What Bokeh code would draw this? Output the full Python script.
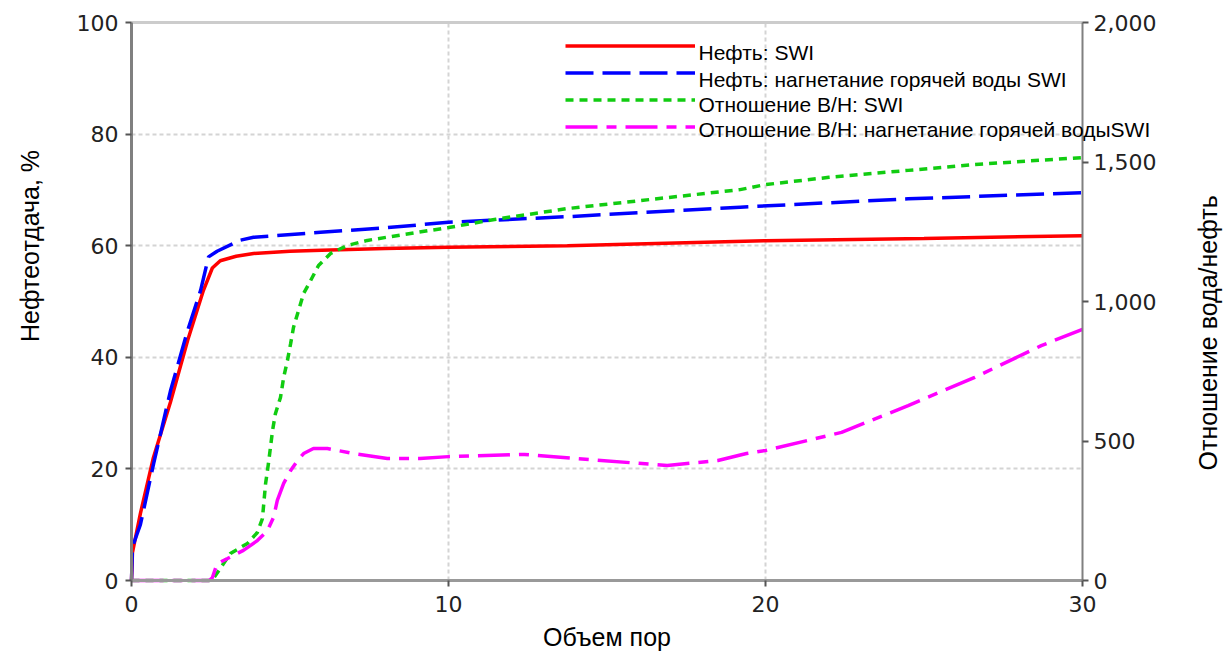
import math
from bokeh.plotting import figure
from bokeh.models import Range1d, LinearAxis, NumeralTickFormatter, FixedTicker, Label, Legend, LegendItem
from bokeh.embed import file_html
from bokeh.resources import INLINE

# ---- data ----
x_red = [0, 0.03, 0.28, 0.69, 1.23, 1.77, 2.27, 2.55, 2.8, 3.3, 3.85, 5.0, 6.0, 8.0, 10, 13.75, 20, 25, 30]
y_red = [0, 5, 12, 22, 32, 43, 52, 56, 57.3, 58.1, 58.6, 59.0, 59.2, 59.5, 59.7, 60.0, 60.9, 61.3, 61.8]

x_blue = [0, 0.03, 0.28, 0.7, 1.23, 1.77, 2.18, 2.43, 2.7, 3.44, 3.85, 5.96, 8, 10, 13.75, 19.2, 24.5, 30]
y_blue = [0, 6, 10, 21, 34, 44.8, 52, 58, 59, 61, 61.5, 62.4, 63.2, 64.2, 65.2, 66.9, 68.4, 69.5]

x_green = [0, 2.45, 2.6, 3.12, 3.66, 3.97, 4.13, 4.23, 4.32, 4.45, 4.54, 4.7, 4.8, 4.92, 5.02, 5.11,
           5.27, 5.43, 5.65, 5.9, 6.28, 6.81, 7.44, 8.58, 10, 11.5, 13.75, 19.2, 20, 22, 24.5, 26.6, 30]
y_green = [0, 0, 10, 97, 133, 172, 222, 348, 419, 538, 598, 656, 728, 789, 849, 907,
           968, 1029, 1075, 1129, 1172, 1201, 1219, 1240, 1265, 1295, 1333, 1401, 1419, 1445, 1470, 1491, 1516]

x_mag = [0, 2.45, 2.55, 2.7, 3.03, 3.53, 3.97, 4.29, 4.48, 4.6, 4.8, 5.02, 5.24, 5.43, 5.74, 6.18, 7.0,
         8.07, 9.1, 10, 12.4, 14.07, 16.9, 18.5, 19.4, 20, 22.4, 24.5, 26.6, 28.7, 30]
y_mag = [0, 0, 10, 60, 79, 108, 143, 179, 226, 287, 348, 394, 430, 455, 473, 473, 455,
         437, 437, 444, 452, 437, 412, 430, 455, 466, 531, 627, 728, 842, 900]

x_ticks = [0, 10, 20, 30]
left_ticks = [0, 20, 40, 60, 80, 100]
right_ticks = [0, 500, 1000, 1500, 2000]

labels = ["Нефть: SWI",
          "Нефть: нагнетание горячей воды SWI",
          "Отношение В/Н: SWI",
          "Отношение В/Н: нагнетание горячей водыSWI"]

TICK_FONT = "DejaVu Sans"
TEXT_FONT = "Liberation Sans"
NB = "\u00a0"

X_MAX, Y_MAX, W_MAX = 30.0, 100.0, 2000.0
W, H = 1228, 653
# plotted area inside the canvas (pixels); the frame fills the whole canvas so that
# axes, legend and labels can all be drawn without being clipped
PL, PR, PT, PB = 131, 1082, 22, 580
kx = (PR - PL) / X_MAX
ky = (PB - PT) / Y_MAX
x0, x1 = -PL / kx, X_MAX + (W - PR) / kx
y0, y1 = -(H - PB) / ky, Y_MAX + PT / ky
wf = W_MAX / Y_MAX

p = figure(width=W, height=H, output_backend="svg", toolbar_location=None,
           x_range=Range1d(x0, x1), y_range=Range1d(y0, y1),
           min_border_left=0, min_border_right=0, min_border_top=0, min_border_bottom=0)
p.extra_y_ranges = {"wor": Range1d(y0 * wf, y1 * wf)}

p.outline_line_color = None
p.background_fill_color = "white"
p.border_fill_color = "white"
p.xaxis.visible = False
p.yaxis.visible = False

# grids
p.xgrid.ticker = FixedTicker(ticks=[10, 20])
p.ygrid.ticker = FixedTicker(ticks=[20, 40, 60, 80])
for g in (p.xgrid, p.ygrid):
    g.grid_line_color = "#d4d4d4"
    g.grid_line_width = 2
    g.grid_line_dash = "4 3"
if "cross_bounds" in p.ygrid[0].properties():
    p.ygrid[0].cross_bounds = (0, X_MAX)
    p.xgrid[0].cross_bounds = (0, Y_MAX)

def style_axis(ax, color, width):
    ax.axis_line_color = color
    ax.axis_line_width = width
    ax.major_tick_line_color = "#555555"
    ax.major_tick_line_width = 2
    ax.major_tick_in = 0
    ax.major_tick_out = 6
    ax.minor_tick_line_color = None
    ax.major_label_text_font = TICK_FONT
    ax.major_label_text_font_size = "22px"
    ax.major_label_text_color = "#222222"
    ax.axis_label_text_font = TEXT_FONT
    ax.axis_label_text_font_size = "25px"
    ax.axis_label_text_font_style = "normal"
    ax.axis_label_text_color = "black"

# bottom axis
xa = LinearAxis(ticker=FixedTicker(ticks=x_ticks), bounds=(0, X_MAX), fixed_location=0,
                axis_label="Объем пор")
style_axis(xa, "#999999", 3)
xa.major_label_standoff = 9
xa.axis_label_standoff = 8
p.add_layout(xa, "below")

# left axis
ya = LinearAxis(ticker=FixedTicker(ticks=left_ticks), bounds=(0, Y_MAX), fixed_location=0,
                axis_label=NB * 16 + "Нефтеотдача, %")
style_axis(ya, "#808080", 3)
ya.major_label_standoff = 7
ya.axis_label_standoff = 30
p.add_layout(ya, "left")

# top border line (light grey) over the plotted x span
top = LinearAxis(ticker=FixedTicker(ticks=[]), bounds=(0, X_MAX), fixed_location=Y_MAX)
top.axis_line_color = "#cccccc"
top.axis_line_width = 3
top.major_tick_line_color = None
top.minor_tick_line_color = None
top.major_label_text_font_size = "0px"
p.add_layout(top, "above")

# right axis at x = 30
ra = LinearAxis(y_range_name="wor", ticker=FixedTicker(ticks=right_ticks), bounds=(0, W_MAX),
                formatter=NumeralTickFormatter(format="0,0"), fixed_location=X_MAX)
style_axis(ra, "#808080", 2)
ra.major_label_standoff = 5
p.add_layout(ra, "right")

# right axis title, carried by a bare axis
rl = LinearAxis(y_range_name="wor", ticker=FixedTicker(ticks=[]), fixed_location=X_MAX,
                bounds=(384, 404), axis_label="Отношение вода/нефть")
style_axis(rl, None, 1)
rl.major_tick_line_color = None
rl.major_tick_out = 0
rl.major_label_text_font_size = "0px"
rl.axis_label_standoff = 125
rl.axis_label_orientation = math.pi / 2
p.add_layout(rl, "right")

# lines
r_red = p.line(x_red, y_red, line_color="#ff0000", line_width=3.5)
r_blue = p.line(x_blue, y_blue, line_color="#0000ff", line_width=3.5, line_dash="28 9")
r_green = p.line(x_green, y_green, line_color="#11cc11", line_width=3.5, line_dash="8 6",
                 y_range_name="wor")
r_mag = p.line(x_mag, y_mag, line_color="#ff00ff", line_width=3.5, line_dash="32 9 10 9",
               y_range_name="wor")

legend = Legend(items=[LegendItem(label=" ", renderers=[r]) for r in (r_red, r_blue, r_green, r_mag)],
                location=(565, H - 140))
legend.background_fill_alpha = 0
legend.border_line_color = None
legend.padding = 0
legend.margin = 0
legend.spacing = 0
legend.glyph_width = 130
legend.glyph_height = 27
legend.label_height = 27
legend.label_width = 0
legend.label_standoff = 0
legend.label_text_font_size = "1px"
p.add_layout(legend, "center")

# legend texts (slightly below their line samples, as in the reference)
label_top = [52, 79, 104, 129]
for txt, ly in zip(labels, label_top):
    p.add_layout(Label(x=698, y=H - ly, x_units="screen", y_units="screen", text=txt,
                       text_font=TEXT_FONT, text_font_size="21px", text_color="black",
                       text_baseline="middle", text_align="left"))

open("out.html", "w").write(file_html(p, INLINE))
